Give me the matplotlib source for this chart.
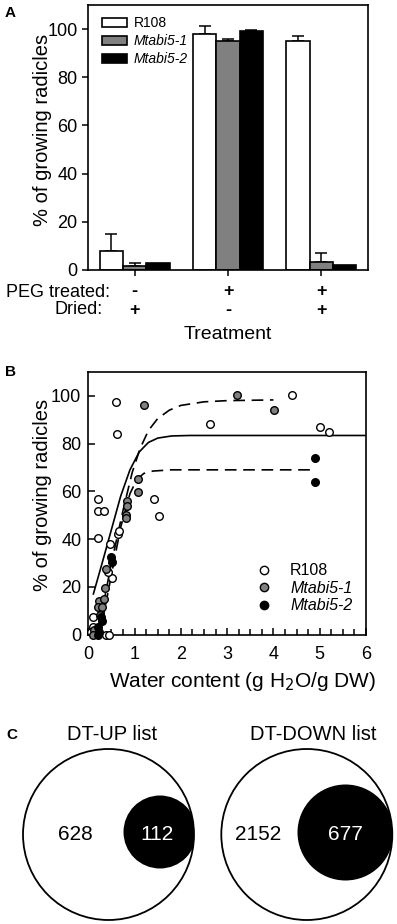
import matplotlib
matplotlib.use("Agg")
import matplotlib.pyplot as plt
import numpy as np
from matplotlib.patches import Circle, Patch
from matplotlib.lines import Line2D
import matplotlib.transforms as mtransforms

plt.rcParams['font.family'] = ['Liberation Sans', 'DejaVu Sans']

# ---------------- data ----------------
# Panel A
groups = [0, 1, 2]
peg_marks = ['-', '+', '+']
dried_marks = ['+', '-', '+']
genotypes = ['R108', 'Mtabi5-1', 'Mtabi5-2']
r108_vals = [8.0, 97.9, 94.9]
r108_err = [7.0, 3.5, 2.1]
abi1_vals = [1.8, 94.9, 3.3]
abi1_err = [1.1, 1.1, 3.9]
abi2_vals = [2.9, 99.0, 1.9]
abi2_err = [0.0, 0.8, 0.0]

# Panel B scatter
r108_x = [0.60, 0.62, 2.62, 4.41, 5.01, 5.21, 0.20, 0.20, 0.33, 0.20, 1.41, 1.53,
          0.47, 0.64, 0.67, 0.51, 0.42, 0.10, 0.10, 0.06, 0.38, 0.44]
r108_y = [97.3, 84.1, 88.1, 100.3, 87.1, 85.0, 56.9, 51.7, 51.7, 40.5, 56.6, 49.6,
          38.0, 42.3, 43.3, 23.6, 26.4, 7.5, 3.0, 1.0, 0.0, 0.0]
abi1_x = [1.21, 3.21, 4.01, 1.07, 1.07, 0.83, 0.84, 0.81, 0.82, 0.38, 0.37, 0.24,
          0.33, 0.22, 0.30, 0.25, 0.12, 0.10]
abi1_y = [96.2, 100.3, 94.2, 65.0, 59.7, 55.9, 54.0, 49.9, 48.8, 27.6, 19.5, 14.0,
          14.8, 11.7, 11.7, 8.0, 2.0, 0.0]
abi2_x = [4.90, 4.90, 0.49, 0.51, 0.28, 0.29, 0.21, 0.24, 0.20]
abi2_y = [73.9, 63.8, 32.5, 30.5, 7.5, 5.5, 3.0, 1.0, 0.0]

# Panel B fitted curves
fit_r108_x = [0.11, 0.3, 0.5, 0.7, 0.9, 1.1, 1.3, 1.5, 1.8, 2.2, 6.0]
fit_r108_y = [17, 30, 44, 58, 69, 76.5, 80.5, 82.3, 83.2, 83.4, 83.4]
fit_abi1_x = [0.25, 0.5, 0.75, 0.95, 1.12, 1.3, 1.5, 1.75, 2.0, 2.5, 3.0, 4.0]
fit_abi1_y = [5, 30, 52, 68, 78, 85.5, 90.5, 94, 96, 97.5, 98, 98.3]
fit_abi2_x = [0.3, 0.5, 0.7, 0.9, 1.05, 1.2, 1.4, 1.8, 4.9]
fit_abi2_y = [5, 25, 45, 59, 65, 67.5, 68.5, 69, 69]

# Panel C
venn_titles = ['DT-UP list', 'DT-DOWN list']
venn_only = [628, 2152]
venn_overlap = [112, 677]

GRAY = '#808080'
W, H = 397, 924
fig = plt.figure(figsize=(W / 100, H / 100), dpi=100)

def frac(l, t, r, b):
    return [l / W, 1 - b / H, (r - l) / W, (b - t) / H]

# ---------------- Panel A ----------------
axA = fig.add_axes(frac(88, 5, 368, 270))
bw = 0.25
x = np.array(groups, dtype=float)
ekw = dict(ecolor='black', elinewidth=1.1, capsize=4, capthick=1.1)
for off, vals, errs, col, lab in [(-bw, r108_vals, r108_err, 'white', genotypes[0]),
                                 (0, abi1_vals, abi1_err, GRAY, genotypes[1]),
                                 (bw, abi2_vals, abi2_err, 'black', genotypes[2])]:
    errs = np.array(errs)
    yerr = np.vstack([np.zeros_like(errs), errs])
    mask = errs > 0
    axA.bar(x + off, vals, width=bw, color=col, edgecolor='black', linewidth=1.2, zorder=2)
    axA.errorbar((x + off)[mask], np.array(vals)[mask], yerr=yerr[:, mask], fmt='none', zorder=1, **ekw)
axA.set_xlim(-0.5, 2.5)
axA.set_ylim(0, 110)
axA.set_yticks([0, 20, 40, 60, 80, 100])
axA.set_xticks(groups)
axA.set_xticklabels([])
axA.tick_params(axis='both', direction='out', length=4, width=1.1, labelsize=13)
for s in axA.spines.values():
    s.set_linewidth(1.2)
axA.set_ylabel('% of growing radicles', fontsize=14.5, labelpad=2)
axA.yaxis.set_label_coords(-0.13, 0.53)
trA = mtransforms.blended_transform_factory(axA.transData, axA.transAxes)
for g, p, d in zip(groups, peg_marks, dried_marks):
    axA.text(g, -0.083, p, transform=trA, ha='center', va='center', fontsize=13, fontweight='bold')
    axA.text(g, -0.151, d, transform=trA, ha='center', va='center', fontsize=13, fontweight='bold')
axA.text(110 / W, 1 - 292 / H, 'PEG treated:', transform=fig.transFigure, ha='right', va='center', fontsize=13)
axA.text(103 / W, 1 - 310 / H, 'Dried:', transform=fig.transFigure, ha='right', va='center', fontsize=13)
axA.text(0.5, -0.245, 'Treatment', transform=axA.transAxes, ha='center', va='center', fontsize=14)
handlesA = [Patch(facecolor='white', edgecolor='black', linewidth=1.2),
            Patch(facecolor=GRAY, edgecolor='black', linewidth=1.2),
            Patch(facecolor='black', edgecolor='black', linewidth=1.2)]
legA = axA.legend(handlesA, genotypes, loc='upper left', bbox_to_anchor=(0.01, 1.0),
                  fontsize=10, frameon=False, handlelength=1.8, handleheight=0.6,
                  labelspacing=0.3, handletextpad=0.5, borderaxespad=0.4)
for t in legA.get_texts()[1:]:
    t.set_fontstyle('italic')
fig.text(10 / W, 1 - 13 / H, 'A', fontsize=11, fontweight='bold', ha='center', va='center')

# ---------------- Panel B ----------------
axB = fig.add_axes(frac(88.3, 372, 366, 634.5))
axB.plot(fit_r108_x, fit_r108_y, color='black', lw=1.2, zorder=2)
axB.plot(fit_abi1_x, fit_abi1_y, color='black', lw=1.2, dashes=(7, 4), zorder=2)
axB.plot(fit_abi2_x, fit_abi2_y, color='black', lw=1.2, dashes=(7, 4), zorder=2)
skw = dict(s=30, linewidths=1.0, edgecolors='black', clip_on=False, zorder=3)
axB.scatter(r108_x, r108_y, facecolors='white', **skw)
axB.scatter(abi1_x, abi1_y, facecolors=GRAY, **skw)
axB.scatter(abi2_x, abi2_y, facecolors='black', **skw)
axB.set_xlim(0, 6)
axB.set_ylim(0, 110)
axB.set_xticks([0, 1, 2, 3, 4, 5, 6])
axB.set_xticks(np.arange(0, 6.01, 0.25), minor=True)
axB.set_yticks([0, 20, 40, 60, 80, 100])
axB.tick_params(axis='both', which='major', direction='in', length=5, width=1.1, labelsize=13, pad=5)
axB.tick_params(axis='x', which='major', pad=8)
axB.tick_params(axis='x', which='minor', direction='in', length=4, width=1.1)
for s in axB.spines.values():
    s.set_linewidth(1.2)
axB.set_ylabel('% of growing radicles', fontsize=14.5, labelpad=2)
axB.yaxis.set_label_coords(-0.13, 0.53)
axB.text(0.554, -0.18, 'Water content (g H$_2$O/g DW)', transform=axB.transAxes,
         ha='center', va='center', fontsize=15)
mk = dict(marker='o', linestyle='none', markersize=6, markeredgecolor='black', markeredgewidth=1.0)
handlesB = [Line2D([], [], markerfacecolor='white', **mk),
            Line2D([], [], markerfacecolor=GRAY, **mk),
            Line2D([], [], markerfacecolor='black', **mk)]
legB = axB.legend(handlesB, genotypes, loc='lower right', bbox_to_anchor=(0.985, 0.045),
                  fontsize=11.5, frameon=False, handletextpad=0.6, labelspacing=0.15,
                  borderaxespad=0.2)
for t in legB.get_texts()[1:]:
    t.set_fontstyle('italic')
fig.text(10 / W, 1 - 372 / H, 'B', fontsize=11, fontweight='bold', ha='center', va='center')

# ---------------- Panel C ----------------
axC = fig.add_axes([0, 0, 1, 224 / H])
axC.set_xlim(0, W)
axC.set_ylim(H, 700)
axC.axis('off')
big_centers = [(108.5, 834.5), (306.8, 834.5)]
small_centers = [(160, 832), (345.5, 832.5)]
small_r = [36.5, 48]
for i in range(2):
    bx, by = big_centers[i]
    sx, sy = small_centers[i]
    big_fill = Circle((bx, by), 85.5, facecolor='white', edgecolor='none', zorder=1)
    axC.add_patch(big_fill)
    small = Circle((sx, sy), small_r[i], facecolor='black', edgecolor='none', zorder=2)
    axC.add_patch(small)
    small.set_clip_path(big_fill)
    axC.add_patch(Circle((bx, by), 85.5, facecolor='none', edgecolor='black', lw=1.3, zorder=3))
    axC.text(bx + (4 if i == 0 else 6), 735, venn_titles[i], ha='center', va='center', fontsize=14.5)
    axC.text(bx - 33 - (0 if i == 0 else 16), 835, str(venn_only[i]), ha='center', va='center', fontsize=15)
    axC.text(sx - (3 if i == 0 else 0), 835, str(venn_overlap[i]), ha='center', va='center',
             fontsize=15, color='white', zorder=4)
fig.text(12 / W, 1 - 735 / H, 'C', fontsize=11, fontweight='bold', ha='center', va='center')

fig.savefig('out.png', dpi=100)
